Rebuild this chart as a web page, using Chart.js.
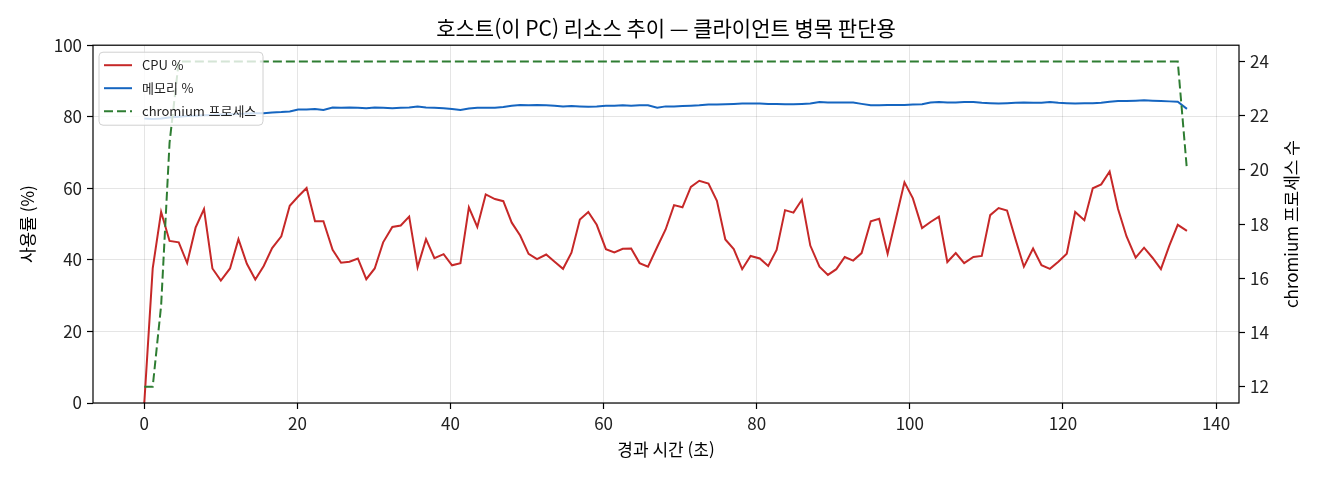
<!DOCTYPE html>
<html lang="ko">
<head>
<meta charset="utf-8">
<title>호스트(이 PC) 리소스 추이</title>
<script src="https://cdn.jsdelivr.net/npm/chart.js@4.4.1/dist/chart.umd.min.js"></script>
<style>
  html, body { margin: 0; padding: 0; background: #fff; }
  #wrap { width: 1320px; height: 480px; }
</style>
</head>
<body>
<div id="wrap"><canvas id="chart" width="1320" height="480"></canvas></div>
<script>
// elapsed seconds for each sample
const times = [
  0.0, 1.1, 2.2, 3.3, 4.5, 5.6, 6.7, 7.8, 8.9, 10.0,
  11.2, 12.3, 13.4, 14.5, 15.6, 16.7, 17.9, 19.0, 20.1, 21.2,
  22.3, 23.4, 24.6, 25.7, 26.8, 27.9, 29.0, 30.1, 31.2, 32.4,
  33.5, 34.6, 35.7, 36.8, 37.9, 39.1, 40.2, 41.3, 42.4, 43.5,
  44.6, 45.8, 46.9, 48.0, 49.1, 50.2, 51.3, 52.5, 53.6, 54.7,
  55.8, 56.9, 58.0, 59.1, 60.3, 61.4, 62.5, 63.6, 64.7, 65.8,
  67.0, 68.1, 69.2, 70.3, 71.4, 72.5, 73.7, 74.8, 75.9, 77.0,
  78.1, 79.2, 80.4, 81.5, 82.6, 83.7, 84.8, 85.9, 87.0, 88.2,
  89.3, 90.4, 91.5, 92.6, 93.7, 94.9, 96.0, 97.1, 98.2, 99.3,
  100.4, 101.6, 102.7, 103.8, 104.9, 106.0, 107.1, 108.3, 109.4, 110.5,
  111.6, 112.7, 113.8, 114.9, 116.1, 117.2, 118.3, 119.4, 120.5, 121.6,
  122.8, 123.9, 125.0, 126.1, 127.2, 128.3, 129.5, 130.6, 131.7, 132.8,
  133.9, 135.0, 136.2
];

const cpuPct = [
  0, 37.6, 53.4, 45.3, 44.9, 39.1, 49.0, 54.2, 37.6, 34.2,
  37.6, 45.8, 38.9, 34.5, 38.3, 43.3, 46.6, 55.1, 57.7, 60.1,
  50.8, 50.8, 42.8, 39.2, 39.5, 40.4, 34.6, 37.6, 44.9, 49.2,
  49.6, 52.1, 37.9, 45.8, 40.5, 41.6, 38.5, 39.1, 54.7, 49.2,
  58.3, 57.0, 56.4, 50.4, 46.8, 41.7, 40.2, 41.5, 39.5, 37.5,
  42.0, 51.3, 53.4, 49.8, 43.0, 42.1, 43.1, 43.2, 39.1, 38.1,
  43.6, 48.5, 55.3, 54.7, 60.4, 62.1, 61.3, 56.5, 45.7, 43.0,
  37.4, 41.1, 40.4, 38.3, 42.8, 53.9, 53.2, 56.8, 44.0, 38.1,
  35.8, 37.4, 40.8, 39.8, 41.9, 50.8, 51.5, 41.7, 51.7, 61.7,
  57.2, 48.9, 50.6, 52.1, 39.4, 41.9, 39.1, 40.8, 41.1, 52.5,
  54.5, 53.8, 45.8, 38.1, 43.2, 38.5, 37.5, 39.5, 41.7, 53.4,
  51.1, 60.0, 61.1, 64.7, 54.2, 46.6, 40.6, 43.4, 40.6, 37.4,
  44.0, 49.8, 48.1
];

const memPct = [
  79.5, 79.4, 79.5, 79.8, 80.0, 80.2, 80.3, 80.4, 80.5, 80.6,
  80.7, 80.8, 80.9, 81.0, 81.0, 81.2, 81.3, 81.5, 82.0, 82.0,
  82.2, 81.9, 82.6, 82.5, 82.6, 82.5, 82.4, 82.6, 82.5, 82.4,
  82.5, 82.6, 82.9, 82.6, 82.5, 82.4, 82.2, 81.9, 82.3, 82.5,
  82.5, 82.5, 82.7, 83.1, 83.3, 83.2, 83.3, 83.2, 83.1, 82.9,
  83.0, 82.9, 82.8, 82.9, 83.1, 83.1, 83.2, 83.1, 83.2, 83.2,
  82.5, 82.9, 82.9, 83.0, 83.1, 83.2, 83.4, 83.4, 83.5, 83.6,
  83.7, 83.7, 83.7, 83.6, 83.6, 83.5, 83.5, 83.6, 83.7, 84.1,
  84.0, 84.0, 84.0, 84.0, 83.6, 83.2, 83.2, 83.3, 83.3, 83.3,
  83.4, 83.5, 84.0, 84.1, 84.0, 84.0, 84.1, 84.1, 83.9, 83.8,
  83.7, 83.8, 83.9, 84.0, 83.9, 83.9, 84.1, 83.9, 83.8, 83.7,
  83.8, 83.8, 83.9, 84.2, 84.4, 84.4, 84.5, 84.6, 84.5, 84.4,
  84.3, 84.2, 82.2
];

const chromiumProcs = [
  12, 12, 15, 21,
  24, 24, 24, 24, 24, 24, 24, 24, 24, 24, 24, 24, 24, 24, 24, 24, 24, 24, 24, 24,
  24, 24, 24, 24, 24, 24, 24, 24, 24, 24, 24, 24, 24, 24, 24, 24, 24, 24, 24, 24,
  24, 24, 24, 24, 24, 24, 24, 24, 24, 24, 24, 24, 24, 24, 24, 24, 24, 24, 24, 24,
  24, 24, 24, 24, 24, 24, 24, 24, 24, 24, 24, 24, 24, 24, 24, 24, 24, 24, 24, 24,
  24, 24, 24, 24, 24, 24, 24, 24, 24, 24, 24, 24, 24, 24, 24, 24, 24, 24, 24, 24,
  24, 24, 24, 24, 24, 24, 24, 24, 24, 24, 24, 24, 24, 24, 24, 24, 24, 24,
  20
];

const seriesNames = ['CPU %', '메모리 %', 'chromium 프로세스'];
const xTicks = [0, 20, 40, 60, 80, 100, 120, 140];
const yTicks = [0, 20, 40, 60, 80, 100];
const y2Ticks = [12, 14, 16, 18, 20, 22, 24];

const FONT = "'Noto Sans CJK KR', 'Noto Sans', sans-serif";
const RED = '#c62828', BLUE = '#1565c0', GREEN = '#2e7d32';
const GRID = 'rgba(0,0,0,0.1)';

const pts = (vals) => vals.map((v, i) => ({ x: times[i], y: v }));

// legend box inside the plot, frame, right-hand axis title
const overlay = {
  id: 'overlay',
  afterDatasetsDraw(chart) {
    const { ctx, chartArea: a } = chart;
    ctx.save();
    ctx.strokeStyle = '#000';
    ctx.lineWidth = 1.2;
    ctx.strokeRect(a.left, a.top, a.right - a.left, a.bottom - a.top);

    // legend
    const bx = a.left + 6, by = a.top + 7, bw = 164, bh = 73;
    ctx.beginPath();
    ctx.roundRect(bx, by, bw, bh, 4);
    ctx.fillStyle = 'rgba(255,255,255,0.8)';
    ctx.fill();
    ctx.strokeStyle = '#d0d0d0';
    ctx.lineWidth = 1;
    ctx.stroke();

    const colors = [RED, BLUE, GREEN];
    ctx.font = '13px ' + FONT;
    ctx.textBaseline = 'middle';
    ctx.textAlign = 'left';
    seriesNames.forEach((name, i) => {
      const ry = by + 13 + i * 23;
      ctx.beginPath();
      ctx.setLineDash(i === 2 ? [9, 4] : []);
      ctx.strokeStyle = colors[i];
      ctx.lineWidth = 2;
      ctx.moveTo(bx + 5, ry);
      ctx.lineTo(bx + 33, ry);
      ctx.stroke();
      ctx.setLineDash([]);
      ctx.fillStyle = '#222';
      ctx.fillText(name, bx + 43, ry);
    });
    ctx.restore();
  },
  afterDraw(chart) {
    const { ctx, chartArea: a } = chart;
    ctx.save();
    ctx.translate(1292, (a.top + a.bottom) / 2);
    ctx.rotate(-Math.PI / 2);
    ctx.font = '17px ' + FONT;
    ctx.fillStyle = '#000';
    ctx.textAlign = 'center';
    ctx.textBaseline = 'middle';
    ctx.fillText('chromium 프로세스 수', 0, 0);
    ctx.restore();
  }
};

const tickFont = { family: FONT, size: 17 };

new Chart(document.getElementById('chart'), {
  type: 'line',
  data: {
    datasets: [
      { label: seriesNames[0], data: pts(cpuPct), yAxisID: 'y', borderColor: RED,
        borderWidth: 2, pointRadius: 0, tension: 0, order: 3 },
      { label: seriesNames[1], data: pts(memPct), yAxisID: 'y', borderColor: BLUE,
        borderWidth: 2, pointRadius: 0, tension: 0, order: 2 },
      { label: seriesNames[2], data: pts(chromiumProcs), yAxisID: 'y2', borderColor: GREEN,
        borderWidth: 2, borderDash: [9, 4], pointRadius: 0, tension: 0, order: 1 }
    ]
  },
  options: {
    responsive: false,
    animation: false,
    layout: { padding: { left: 12, right: 0, top: 0, bottom: 0 } },
    plugins: {
      legend: { display: false },
      tooltip: { enabled: false },
      title: {
        display: true,
        text: '호스트(이 PC) 리소스 추이 — 클라이언트 병목 판단용',
        color: '#000',
        font: { family: FONT, size: 21, weight: 'normal', lineHeight: 1.2 },
        padding: { top: 15, bottom: 5 }
      }
    },
    scales: {
      x: {
        type: 'linear', min: -6.7, max: 143.0,
        afterBuildTicks: (s) => { s.ticks = xTicks.map((v) => ({ value: v })); },
        afterFit: (s) => { s.height = 77; },
        grid: { color: GRID, tickColor: '#000', tickLength: 6, tickWidth: 1.2 },
        border: { display: false },
        ticks: { font: tickFont, color: '#222', padding: 4, maxRotation: 0 },
        title: { display: true, text: '경과 시간 (초)', color: '#000',
          font: { family: FONT, size: 17 }, padding: { top: 0, bottom: 20 } }
      },
      y: {
        position: 'left', min: 0, max: 100,
        afterBuildTicks: (s) => { s.ticks = yTicks.map((v) => ({ value: v })); },
        afterFit: (s) => { s.width = 81; },
        grid: { color: GRID, tickColor: '#000', tickLength: 6, tickWidth: 1.2 },
        border: { display: false },
        ticks: { font: tickFont, color: '#222', padding: 5 },
        title: { display: true, text: '사용률 (%)', color: '#000',
          font: { family: FONT, size: 17 }, padding: { top: 5, bottom: 0 } }
      },
      y2: {
        position: 'right', min: 11.4, max: 24.6,
        afterBuildTicks: (s) => { s.ticks = y2Ticks.map((v) => ({ value: v })); },
        afterFit: (s) => { s.width = 81; },
        grid: { drawOnChartArea: false, tickColor: '#000', tickLength: 6, tickWidth: 1.2 },
        border: { display: false },
        ticks: { font: tickFont, color: '#222', padding: 5 }
      }
    }
  },
  plugins: [overlay]
});
</script>
</body>
</html>
